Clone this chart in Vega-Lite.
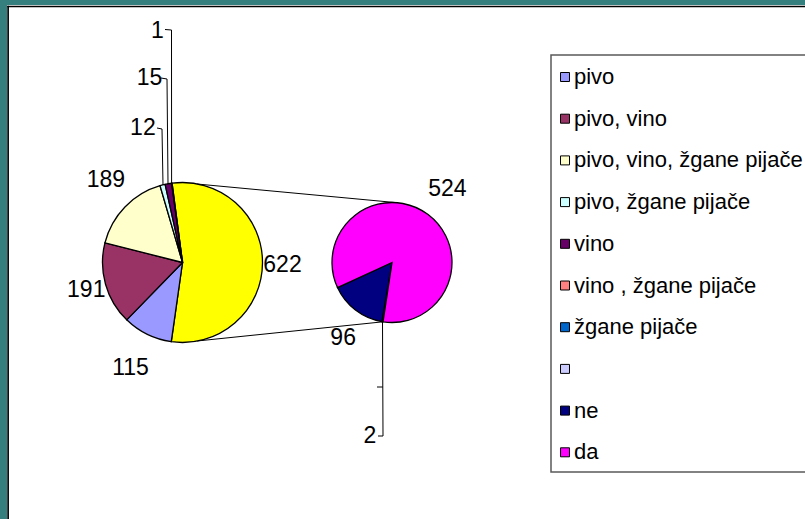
{
  "$schema": "https://vega.github.io/schema/vega-lite/v6.json",
  "autosize": "none",
  "width": 798,
  "height": 514,
  "padding": {"left": 7, "top": 5, "right": 0, "bottom": 0},
  "background": "#367f7f",
  "config": {
    "view": {"stroke": null, "fill": "white"},
    "axis": {"disable": true},
    "font": "Liberation Sans, Arial, sans-serif"
  },
  "data": {"values": [{}]},
  "datasets": {
    "glavni": [
      {"kategorija": "ostalo", "vrijednost": 622, "red": 1},
      {"kategorija": "pivo", "vrijednost": 115, "red": 2},
      {"kategorija": "pivo, vino", "vrijednost": 191, "red": 3},
      {"kategorija": "pivo, vino, žgane pijače", "vrijednost": 189, "red": 4},
      {"kategorija": "pivo, žgane pijače", "vrijednost": 12, "red": 5},
      {"kategorija": "vino", "vrijednost": 15, "red": 6},
      {"kategorija": "vino , žgane pijače", "vrijednost": 1, "red": 7}
    ],
    "drugi": [
      {"kategorija": "", "vrijednost": 2, "red": 1},
      {"kategorija": "ne", "vrijednost": 96, "red": 2},
      {"kategorija": "da", "vrijednost": 524, "red": 3}
    ]
  },
  "layer": [
    {
      "mark": {"type": "rect", "fill": "white", "stroke": "#5a5a5a", "strokeWidth": 1.5},
      "encoding": {
        "x": {"datum": 551, "type": "quantitative", "scale": {"domain": [7, 805], "nice": false, "zero": false}},
        "y": {"datum": 55, "type": "quantitative", "scale": {"domain": [5, 519], "reverse": true, "nice": false, "zero": false}},
        "x2": {"datum": 830},
        "y2": {"datum": 472}
      }
    },
    {
      "mark": {"type": "rule", "color": "black", "strokeWidth": 1},
      "encoding": {"x": {"datum": 197, "type": "quantitative"}, "y": {"datum": 184, "type": "quantitative"}, "x2": {"datum": 397}, "y2": {"datum": 202.7}}
    },
    {
      "mark": {"type": "rule", "color": "black", "strokeWidth": 1},
      "encoding": {"x": {"datum": 197, "type": "quantitative"}, "y": {"datum": 341, "type": "quantitative"}, "x2": {"datum": 383}, "y2": {"datum": 321.8}}
    },
    {
      "mark": {"type": "rule", "color": "black", "strokeWidth": 1},
      "encoding": {"x": {"datum": 165, "type": "quantitative"}, "y": {"datum": 29.5, "type": "quantitative"}, "x2": {"datum": 171.5}, "y2": {"datum": 30}}
    },
    {
      "mark": {"type": "rule", "color": "black", "strokeWidth": 1},
      "encoding": {"x": {"datum": 171.5, "type": "quantitative"}, "y": {"datum": 30, "type": "quantitative"}, "x2": {"datum": 171.6}, "y2": {"datum": 183}}
    },
    {
      "mark": {"type": "rule", "color": "black", "strokeWidth": 1},
      "encoding": {"x": {"datum": 161, "type": "quantitative"}, "y": {"datum": 78, "type": "quantitative"}, "x2": {"datum": 167}, "y2": {"datum": 79}}
    },
    {
      "mark": {"type": "rule", "color": "black", "strokeWidth": 1},
      "encoding": {"x": {"datum": 167, "type": "quantitative"}, "y": {"datum": 79, "type": "quantitative"}, "x2": {"datum": 168}, "y2": {"datum": 184}}
    },
    {
      "mark": {"type": "rule", "color": "black", "strokeWidth": 1},
      "encoding": {"x": {"datum": 157, "type": "quantitative"}, "y": {"datum": 128, "type": "quantitative"}, "x2": {"datum": 162}, "y2": {"datum": 129}}
    },
    {
      "mark": {"type": "rule", "color": "black", "strokeWidth": 1},
      "encoding": {"x": {"datum": 162, "type": "quantitative"}, "y": {"datum": 129, "type": "quantitative"}, "x2": {"datum": 163}, "y2": {"datum": 185}}
    },
    {
      "mark": {"type": "rule", "color": "black", "strokeWidth": 1},
      "encoding": {"x": {"datum": 382.5, "type": "quantitative"}, "y": {"datum": 322, "type": "quantitative"}, "x2": {"datum": 383}, "y2": {"datum": 436}}
    },
    {
      "mark": {"type": "rule", "color": "black", "strokeWidth": 1},
      "encoding": {"x": {"datum": 378, "type": "quantitative"}, "y": {"datum": 436, "type": "quantitative"}, "x2": {"datum": 383}, "y2": {"datum": 436}}
    },
    {
      "mark": {"type": "rule", "color": "black", "strokeWidth": 1},
      "encoding": {"x": {"datum": 377, "type": "quantitative"}, "y": {"datum": 387, "type": "quantitative"}, "x2": {"datum": 382.8}, "y2": {"datum": 387}}
    },
    {
      "mark": {"type": "rule", "color": "black", "strokeWidth": 1.7},
      "encoding": {"x": {"datum": 8.1, "type": "quantitative"}, "y": {"datum": 5.7, "type": "quantitative"}, "x2": {"datum": 8.1}, "y2": {"datum": 519}}
    },
    {
      "mark": {"type": "rule", "color": "black", "strokeWidth": 1.6},
      "encoding": {"x": {"datum": 7.3, "type": "quantitative"}, "y": {"datum": 6.5, "type": "quantitative"}, "x2": {"datum": 805}, "y2": {"datum": 6.5}}
    },
    {
      "data": {"name": "glavni"},
      "encoding": {
        "theta": {"field": "vrijednost", "type": "quantitative", "stack": true, "scale": {"range": [-0.1309, 6.1523]}},
        "order": {"field": "red", "type": "quantitative"},
        "x": {"datum": 182.5, "type": "quantitative"},
        "y": {"datum": 262.5, "type": "quantitative"}
      },
      "layer": [
        {
          "mark": {"type": "arc", "outerRadius": 80, "stroke": "black", "strokeWidth": 1.3},
          "encoding": {
            "color": {
              "field": "kategorija", "type": "nominal",
              "scale": {
                "domain": ["pivo", "pivo, vino", "pivo, vino, žgane pijače", "pivo, žgane pijače", "vino", "vino , žgane pijače", "žgane pijače", "", "ne", "da", "ostalo"],
                "range": ["#9999FF", "#993366", "#FFFFCC", "#CCFFFF", "#660066", "#FF8080", "#0066CC", "#CCCCFF", "#000080", "#FF00FF", "#FFFF00"]
              },
              "legend": {
                "values": ["pivo", "pivo, vino", "pivo, vino, žgane pijače", "pivo, žgane pijače", "vino", "vino , žgane pijače", "žgane pijače", "", "ne", "da"],
                "title": null, "orient": "none", "legendX": 545, "legendY": 59,
                "symbolType": "square", "symbolSize": 81, "symbolStrokeColor": "black", "symbolStrokeWidth": 1, "symbolOpacity": 1,
                "labelFontSize": 22, "labelColor": "black", "labelOffset": -2, "labelLimit": 400,
                "rowPadding": 19.7, "padding": 2
              }
            }
          }
        },
        {
          "mark": {
            "type": "text", "fontSize": 23, "color": "black", "align": "center", "baseline": "middle",
            "dx": {"expr": "datum.kategorija === 'vino , žgane pijače' ? 6 : datum.kategorija === 'pivo, žgane pijače' ? -5 : datum.kategorija === 'pivo, vino, žgane pijače' ? 4 : 0"},
            "dy": {"expr": "datum.kategorija === 'pivo, vino, žgane pijače' ? -5 : datum.kategorija === 'ostalo' ? 2 : 0"}
          },
          "encoding": {
            "text": {"field": "vrijednost", "type": "quantitative"},
            "radius": {"value": {"expr": "datum.kategorija === 'vino , žgane pijače' ? 234 : datum.kategorija === 'vino' ? 187 : datum.kategorija === 'pivo, žgane pijače' ? 139 : datum.kategorija === 'pivo' ? 118 : datum.kategorija === 'pivo, vino, žgane pijače' ? 112 : datum.kategorija === 'pivo, vino' ? 100 : 100"}}
          }
        }
      ]
    },
    {
      "data": {"name": "drugi"},
      "encoding": {
        "theta": {"field": "vrijednost", "type": "quantitative", "stack": true, "scale": {"range": [3.292, 9.5752]}},
        "order": {"field": "red", "type": "quantitative"},
        "x": {"datum": 392, "type": "quantitative"},
        "y": {"datum": 262.5, "type": "quantitative"}
      },
      "layer": [
        {
          "mark": {"type": "arc", "outerRadius": 60, "stroke": "black", "strokeWidth": 1.3},
          "encoding": {
            "color": {
              "field": "kategorija", "type": "nominal",
              "legend": {
                "values": ["pivo", "pivo, vino", "pivo, vino, žgane pijače", "pivo, žgane pijače", "vino", "vino , žgane pijače", "žgane pijače", "", "ne", "da"],
                "title": null, "orient": "none", "legendX": 545, "legendY": 59,
                "symbolType": "square", "symbolSize": 81, "symbolStrokeColor": "black", "symbolStrokeWidth": 1, "symbolOpacity": 1,
                "labelFontSize": 22, "labelColor": "black", "labelOffset": -2, "labelLimit": 400,
                "rowPadding": 19.7, "padding": 2
              }
            }
          }
        },
        {
          "mark": {
            "type": "text", "fontSize": 23, "color": "black", "align": "center", "baseline": "middle",
            "dx": {"expr": "datum.kategorija === '' ? 6 : datum.kategorija === 'ne' ? 6 : 0"},
            "dy": {"expr": "datum.kategorija === 'ne' ? 4 : 0"}
          },
          "encoding": {
            "text": {"field": "vrijednost", "type": "quantitative"},
            "radius": {"value": {"expr": "datum.kategorija === '' ? 176 : datum.kategorija === 'da' ? 92 : 90"}}
          }
        }
      ]
    }
  ],
  "resolve": {"scale": {"theta": "independent"}}
}
